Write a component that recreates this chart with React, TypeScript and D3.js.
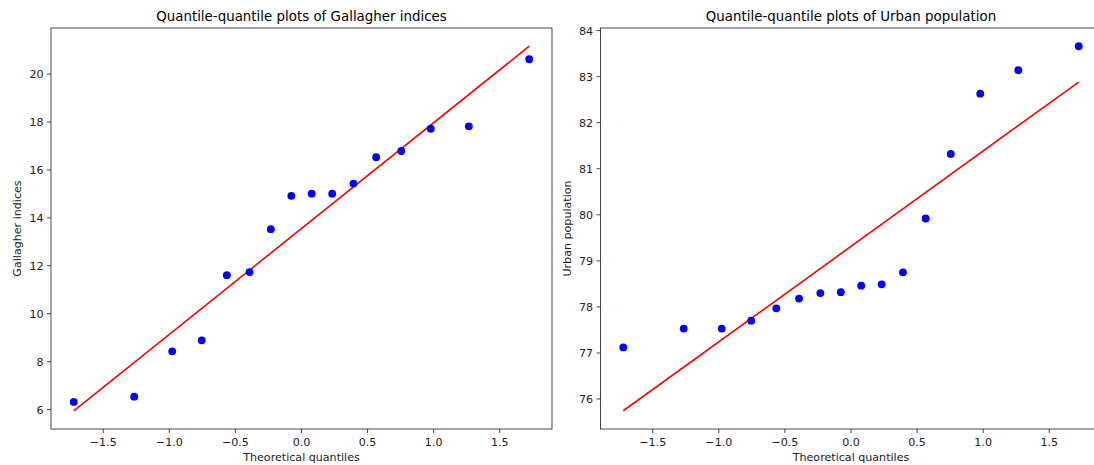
import React from "react";
import * as d3 from "d3";

// Theoretical quantiles (Filliben plotting positions, n = 16)
const theoretical = [-1.723, -1.266, -0.978, -0.755, -0.565, -0.393, -0.232, -0.077, 0.077, 0.232, 0.393, 0.565, 0.755, 0.978, 1.266, 1.723];

// Ordered sample values
const gallagher = [6.32, 6.54, 8.43, 8.89, 11.61, 11.74, 13.53, 14.92, 15.01, 15.01, 15.43, 16.53, 16.79, 17.72, 17.82, 20.62];
const urban = [77.12, 77.53, 77.53, 77.7, 77.97, 78.18, 78.3, 78.32, 78.46, 78.49, 78.75, 79.92, 81.32, 82.63, 83.14, 83.66];

const xTicks = [-1.5, -1.0, -0.5, 0.0, 0.5, 1.0, 1.5];
const gallagherTicks = [6, 8, 10, 12, 14, 16, 18, 20];
const urbanTicks = [76, 77, 78, 79, 80, 81, 82, 83, 84];

const titles = ["Quantile-quantile plots of Gallagher indices", "Quantile-quantile plots of Urban population"];
const yLabels = ["Gallagher indices", "Urban population"];
const xLabel = "Theoretical quantiles";

const FONT = "DejaVu Sans, sans-serif";
const TICK_FS = 11.1;
const TITLE_FS = 13.4;

function fit(xs: number[], ys: number[]) {
  const mx = d3.mean(xs)!;
  const my = d3.mean(ys)!;
  let sxy = 0, sxx = 0;
  xs.forEach((x, i) => {
    sxy += (x - mx) * (ys[i] - my);
    sxx += (x - mx) * (x - mx);
  });
  const slope = sxy / sxx;
  return { slope, intercept: my - slope * mx };
}

function Panel({ left, ys, yTicks, title, yLabel }: { left: number; ys: number[]; yTicks: number[]; title: string; yLabel: string }) {
  const top = 28, bottom = 429, width = 501;
  const right = left + width;
  const { slope, intercept } = fit(theoretical, ys);
  const lineY = theoretical.map((x) => slope * x + intercept);
  const xmin = d3.min(theoretical)!, xmax = d3.max(theoretical)!;
  const xm = (xmax - xmin) * 0.05;
  const allY = ys.concat([lineY[0], lineY[lineY.length - 1]]);
  const ymin = d3.min(allY)!, ymax = d3.max(allY)!;
  const ym = (ymax - ymin) * 0.05;
  const x = d3.scaleLinear().domain([xmin - xm, xmax + xm]).range([left, right]);
  const y = d3.scaleLinear().domain([ymin - ym, ymax + ym]).range([bottom, top]);
  const fmt = d3.format(".1f");
  const line = d3.line<number>().x((d) => x(d)).y((d) => y(slope * d + intercept));
  const cx = (left + right) / 2;
  return (
    <g>
      <text x={cx} y={21} textAnchor="middle" fontSize={TITLE_FS} fontFamily={FONT} fill="#000">{title}</text>
      <path d={line([xmin, xmax])!} stroke="#ff0000" strokeWidth={1.6} fill="none" />
      {theoretical.map((t, i) => (
        <circle key={i} cx={x(t)} cy={y(ys[i])} r={3.9} fill="#0000ff" />
      ))}
      <rect x={left} y={top} width={width} height={bottom - top} fill="none" stroke="#333" strokeWidth={0.9} />
      {xTicks.map((t) => (
        <g key={t}>
          <line x1={x(t)} x2={x(t)} y1={bottom} y2={bottom + 4} stroke="#333" strokeWidth={0.9} />
          <text x={x(t)} y={bottom + 17} textAnchor="middle" fontSize={TICK_FS} fontFamily={FONT} fill="#222">{fmt(t)}</text>
        </g>
      ))}
      {yTicks.map((t) => (
        <g key={t}>
          <line x1={left - 4} x2={left} y1={y(t)} y2={y(t)} stroke="#333" strokeWidth={0.9} />
          <text x={left - 7.5} y={y(t) + 4} textAnchor="end" fontSize={TICK_FS} fontFamily={FONT} fill="#222">{t}</text>
        </g>
      ))}
      <text x={cx} y={461} textAnchor="middle" fontSize={TICK_FS} fontFamily={FONT} fill="#222">{xLabel}</text>
      <text transform={`translate(${left - 30},${(top + bottom) / 2}) rotate(-90)`} textAnchor="middle" fontSize={TICK_FS} fontFamily={FONT} fill="#222">{yLabel}</text>
    </g>
  );
}

export default function App() {
  return (
    <svg width={1094} height={465} style={{ position: "absolute", left: 0, top: 0, background: "#fff" }}>
      <rect width={1094} height={465} fill="#fff" />
      <Panel left={51} ys={gallagher} yTicks={gallagherTicks} title={titles[0]} yLabel={yLabels[0]} />
      <Panel left={600.5} ys={urban} yTicks={urbanTicks} title={titles[1]} yLabel={yLabels[1]} />
    </svg>
  );
}
